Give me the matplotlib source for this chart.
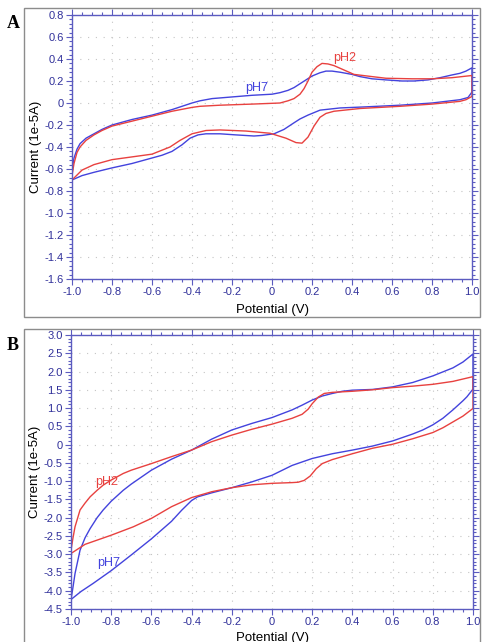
import matplotlib
matplotlib.use('Agg')
import matplotlib.pyplot as plt
from matplotlib.patches import Rectangle
from matplotlib.ticker import MultipleLocator, FuncFormatter

# --- Panel A: CV at pH7 / pH2 (forward = upper branch, reverse = lower branch) ---
a7_fx = [-1.0, -0.99, -0.975, -0.96, -0.93, -0.89, -0.85, -0.8, -0.7, -0.6, -0.5, -0.45, -0.4, -0.36,
         -0.3, -0.2, -0.1, 0.0, 0.04, 0.08, 0.11, 0.14, 0.17, 0.2, 0.24, 0.27, 0.3, 0.34, 0.4, 0.44, 0.5,
         0.57, 0.65, 0.71, 0.78, 0.84, 0.9, 0.94, 0.97, 1.0]
a7_fy = [-0.61, -0.50, -0.42, -0.37, -0.32, -0.28, -0.24, -0.20, -0.15, -0.11, -0.06, -0.03, 0.0, 0.02,
         0.04, 0.055, 0.07, 0.08, 0.094, 0.115, 0.14, 0.175, 0.21, 0.245, 0.275, 0.29, 0.29, 0.28, 0.26,
         0.24, 0.22, 0.21, 0.20, 0.20, 0.21, 0.23, 0.255, 0.27, 0.29, 0.32]
a7_rx = [1.0, 0.98, 0.94, 0.8, 0.64, 0.47, 0.34, 0.24, 0.18, 0.14, 0.11, 0.06, 0.01, -0.05, -0.09,
         -0.18, -0.26, -0.33, -0.37, -0.41, -0.45, -0.5, -0.55, -0.6, -0.7, -0.8, -0.89, -0.95, -1.0]
a7_ry = [0.10, 0.05, 0.03, 0.0, -0.02, -0.035, -0.045, -0.065, -0.11, -0.145, -0.18, -0.24, -0.28, -0.295,
         -0.30, -0.29, -0.28, -0.28, -0.29, -0.32, -0.38, -0.44, -0.475, -0.50, -0.55, -0.59, -0.63,
         -0.66, -0.70]
a2_fx = [-1.0, -0.99, -0.975, -0.96, -0.93, -0.89, -0.85, -0.8, -0.7, -0.6, -0.5, -0.4, -0.36, -0.26,
         -0.1, 0.04, 0.08, 0.11, 0.14, 0.16, 0.18, 0.2, 0.225, 0.25, 0.28, 0.31, 0.36, 0.41, 0.5, 0.57,
         0.7, 0.8, 0.9, 1.0]
a2_fy = [-0.66, -0.55, -0.45, -0.40, -0.34, -0.29, -0.25, -0.21, -0.165, -0.12, -0.075, -0.04, -0.03,
         -0.02, -0.01, 0.0, 0.02, 0.04, 0.08, 0.13, 0.20, 0.28, 0.33, 0.36, 0.355, 0.34, 0.30, 0.26, 0.24,
         0.225, 0.22, 0.22, 0.23, 0.25]
a2_rx = [1.0, 0.97, 0.94, 0.8, 0.64, 0.44, 0.31, 0.27, 0.24, 0.21, 0.18, 0.15, 0.12, 0.07, -0.01,
         -0.13, -0.26, -0.33, -0.4, -0.46, -0.51, -0.6, -0.7, -0.8, -0.89, -0.95, -1.0]
a2_ry = [0.06, 0.03, 0.015, -0.01, -0.03, -0.05, -0.075, -0.095, -0.13, -0.21, -0.31, -0.365, -0.36,
         -0.32, -0.275, -0.255, -0.245, -0.25, -0.28, -0.34, -0.40, -0.465, -0.49, -0.515, -0.56, -0.61,
         -0.70]

# --- Panel B ---
b7_fx = [-1.0, -0.99, -0.98, -0.955, -0.93, -0.905, -0.87, -0.84, -0.8, -0.74, -0.7, -0.6, -0.5, -0.4,
         -0.3, -0.2, -0.1, 0.0, 0.1, 0.15, 0.2, 0.25, 0.3, 0.35, 0.4, 0.5, 0.6, 0.7, 0.8, 0.9, 0.95, 1.0]
b7_fy = [-4.24, -3.9, -3.53, -2.89, -2.55, -2.30, -2.0, -1.79, -1.55, -1.25, -1.08, -0.70, -0.40, -0.15,
         0.15, 0.40, 0.58, 0.74, 0.95, 1.08, 1.22, 1.33, 1.40, 1.46, 1.49, 1.51, 1.58, 1.70, 1.88, 2.10,
         2.26, 2.48]
b7_rx = [1.0, 0.97, 0.95, 0.9, 0.85, 0.8, 0.75, 0.7, 0.6, 0.5, 0.4, 0.3, 0.2, 0.1, 0.0, -0.1, -0.2,
         -0.3, -0.37, -0.4, -0.45, -0.5, -0.6, -0.7, -0.8, -0.89, -0.95, -1.0]
b7_ry = [1.52, 1.31, 1.20, 0.95, 0.72, 0.54, 0.40, 0.29, 0.10, -0.04, -0.15, -0.25, -0.38, -0.57, -0.84,
         -1.02, -1.18, -1.32, -1.43, -1.53, -1.80, -2.10, -2.58, -3.02, -3.45, -3.80, -4.02, -4.24]
b2_fx = [-1.0, -0.99, -0.98, -0.955, -0.93, -0.905, -0.87, -0.84, -0.8, -0.74, -0.7, -0.6, -0.5, -0.4,
         -0.3, -0.2, -0.1, 0.0, 0.1, 0.15, 0.18, 0.2, 0.23, 0.26, 0.3, 0.4, 0.5, 0.6, 0.7, 0.8, 0.9, 1.0]
b2_fy = [-2.89, -2.55, -2.25, -1.79, -1.60, -1.43, -1.25, -1.11, -0.97, -0.79, -0.70, -0.52, -0.33,
         -0.15, 0.08, 0.26, 0.42, 0.56, 0.72, 0.83, 0.97, 1.12, 1.30, 1.40, 1.43, 1.46, 1.50, 1.56, 1.60,
         1.65, 1.73, 1.86]
b2_rx = [1.0, 0.95, 0.9, 0.85, 0.8, 0.7, 0.6, 0.5, 0.4, 0.3, 0.25, 0.22, 0.19, 0.16, 0.13, 0.1, 0.0,
         -0.1, -0.2, -0.3, -0.4, -0.5, -0.6, -0.69, -0.8, -0.93, -1.0]
b2_ry = [0.99, 0.78, 0.62, 0.46, 0.33, 0.16, 0.01, -0.10, -0.25, -0.41, -0.52, -0.66, -0.86, -0.98,
         -1.03, -1.04, -1.06, -1.10, -1.18, -1.29, -1.45, -1.70, -2.02, -2.25, -2.48, -2.73, -2.98]

RED = '#e8413f'
BLUE = '#4343dd'
AXC = '#5b5bc0'
TXC = '#30309a'
GRID = '#c4c4c4'

plt.rcParams['font.family'] = ['Liberation Sans', 'DejaVu Sans']


def fmt(v, pos):
    if abs(v) < 1e-9:
        return '0'
    return f'{v:.1f}'.replace('\u2212', '-')


def setup(ax, ylim, ymaj, ymin, xpad):
    ax.set_xlim(-1.0, 1.0)
    ax.set_ylim(*ylim)
    ax.xaxis.set_major_locator(MultipleLocator(0.2))
    ax.xaxis.set_minor_locator(MultipleLocator(0.05))
    ax.yaxis.set_major_locator(MultipleLocator(ymaj))
    ax.yaxis.set_minor_locator(MultipleLocator(ymin))
    ax.xaxis.set_major_formatter(FuncFormatter(fmt))
    ax.yaxis.set_major_formatter(FuncFormatter(fmt))
    ax.tick_params(which='both', direction='out', colors=AXC, labelcolor=TXC,
                   top=True, right=True, labelsize=8, width=0.8)
    ax.tick_params(which='major', length=4, pad=2)
    ax.tick_params(which='minor', length=2)
    for s in ax.spines.values():
        s.set_color(AXC)
        s.set_linewidth(1.0)
    ax.grid(True, which='major', color=GRID, lw=0.8, ls=(0, (1, 6)))
    ax.set_xlabel('Potential (V)', fontsize=9.5, labelpad=xpad)
    ax.set_ylabel('Current (1e-5A)', fontsize=9.5, labelpad=2)


fig = plt.figure(figsize=(4.87, 6.42), dpi=100)

# grey frames around each panel
W, H = 487, 642
fig.patches.append(Rectangle((24 / W, 1 - 317 / H), 456 / W, 309 / H, transform=fig.transFigure,
                             fill=False, edgecolor='#8c8c8c', lw=1.0))
fig.patches.append(Rectangle((24 / W, -0.01), 456 / W, 1 - 329 / H + 0.01, transform=fig.transFigure,
                             fill=False, edgecolor='#8c8c8c', lw=1.0))

axA = fig.add_axes([72 / W, 1 - 279 / H, 400 / W, 264 / H])
setup(axA, (-1.6, 0.8), 0.2, 0.04, 5)
axA.plot(a7_fx + a7_rx, a7_fy + a7_ry, color=BLUE, lw=1.0)
axA.plot(a2_fx + a2_rx, a2_fy + a2_ry, color=RED, lw=1.0)
axA.text(-0.077, 0.133, 'pH7', color=BLUE, fontsize=9, ha='center', va='center')
axA.text(0.362, 0.406, 'pH2', color=RED, fontsize=9, ha='center', va='center')

axB = fig.add_axes([71 / W, 1 - 609 / H, 402 / W, 274 / H])
setup(axB, (-4.5, 3.0), 0.5, 0.1, 3)
axB.plot(b7_fx + b7_rx, b7_fy + b7_ry, color=BLUE, lw=1.0)
axB.plot(b2_fx + b2_rx, b2_fy + b2_ry, color=RED, lw=1.0)
axB.text(-0.823, -1.02, 'pH2', color=RED, fontsize=9, ha='center', va='center')
axB.text(-0.814, -3.24, 'pH7', color=BLUE, fontsize=9, ha='center', va='center')

fig.text(7 / W, 1 - 23 / H, 'A', family=['Liberation Serif', 'DejaVu Serif'], fontweight='bold',
         fontsize=13, ha='left', va='center')
fig.text(7 / W, 1 - 345 / H, 'B', family=['Liberation Serif', 'DejaVu Serif'], fontweight='bold',
         fontsize=13, ha='left', va='center')

fig.savefig('out.png', dpi=100)
